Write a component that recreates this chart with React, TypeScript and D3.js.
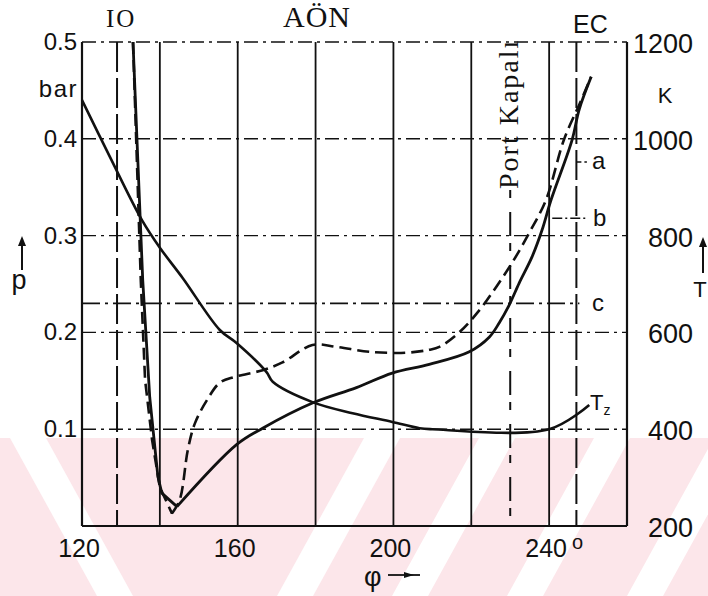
import React from "react";
import * as d3 from "d3";

// crank angle (deg) and pressure (bar) for the two pressure traces
const solidPhi = [133.1, 135.6, 137.4, 138.7, 139.5, 140.5, 144.4, 159.7, 166.4, 179.2, 190.5, 199.7, 209.2, 219.5, 224.6, 227.2, 229.7, 232.3, 235.6, 238.2, 240.5, 245.9, 247.7, 250.8];
const solidP = [0.5, 0.254, 0.133, 0.082, 0.051, 0.034, 0.02, 0.084, 0.101, 0.127, 0.143, 0.158, 0.167, 0.18, 0.195, 0.21, 0.228, 0.251, 0.278, 0.306, 0.337, 0.399, 0.43, 0.464];
const solidVertex = 6;

const dashPhi = [133.1, 135.1, 136.2, 138.0, 140.0, 143.1, 145.1, 147.2, 149.0, 152.1, 155.4, 159.2, 166.4, 171.5, 179.2, 185.4, 193.8, 203.3, 209.2, 211.8, 216.9, 222.1, 226.4, 230.5, 234.9, 239.2, 243.8, 247.7, 250.8];
const dashP = [0.5, 0.254, 0.151, 0.089, 0.04, 0.013, 0.027, 0.079, 0.106, 0.13, 0.148, 0.154, 0.161, 0.169, 0.187, 0.185, 0.18, 0.179, 0.182, 0.185, 0.2, 0.223, 0.247, 0.272, 0.303, 0.337, 0.399, 0.435, 0.464];
const dashVertex = 5;

// temperature T_z (K)
const tzPhi = [120, 127.2, 135.4, 140, 145.9, 155.4, 159.7, 167.4, 169, 179.2, 189.5, 199.7, 206.7, 210, 240, 250.3];
const tzT = [1080, 962, 832, 775, 712, 605, 578, 518, 498, 456, 433, 415, 402, 400, 400, 450];

const phiTicks = [120, 160, 200, 240];
const gridPhi = [140, 160, 180, 200, 220, 240];
const pTicks = [0.1, 0.2, 0.3, 0.4, 0.5];
const tTicks = [200, 400, 600, 800, 1000, 1200];

const ioPhi = 129;
const ecPhi = 247;
const portPhi = 230;
const cP = 0.23;
const labelA = { text: "a", p: 0.376, from: 247 };
const labelB = { text: "b", p: 0.318, from: 240.8 };
const leaderEnd = 249.7;

const W = 708;
const H = 596;

export default function App() {
  const x = d3.scaleLinear().domain([120, 260]).range([82, 627]);
  const yP = d3.scaleLinear().domain([0, 0.5]).range([526, 42]);
  const yT = d3.scaleLinear().domain([200, 1200]).range([526, 42]);

  const pSmooth = d3
    .line<[number, number]>()
    .x((d) => x(d[0]))
    .y((d) => yP(d[1]))
    .curve(d3.curveCatmullRom.alpha(0.5));
  const pStraight = d3
    .line<[number, number]>()
    .x((d) => x(d[0]))
    .y((d) => yP(d[1]))
    .curve(d3.curveLinear);
  const tLine = d3
    .line<[number, number]>()
    .x((d) => x(d[0]))
    .y((d) => yT(d[1]))
    .curve(d3.curveCatmullRom.alpha(0.5));

  const solid = solidPhi.map((v, i) => [v, solidP[i]] as [number, number]);
  const dashed = dashPhi.map((v, i) => [v, dashP[i]] as [number, number]);
  const tz = tzPhi.map((v, i) => [v, tzT[i]] as [number, number]);

  const solidD = (pStraight(solid.slice(0, solidVertex + 1)) ?? "") + (pSmooth(solid.slice(solidVertex)) ?? "");
  const dashD = (pStraight(dashed.slice(0, dashVertex + 1)) ?? "") + (pSmooth(dashed.slice(dashVertex)) ?? "");

  const x0 = x(120);
  const x1 = x(260);
  const yTop = yP(0.5);
  const yBot = yP(0);
  const sans = "'Liberation Sans', Arial, sans-serif";
  const serif = "'Liberation Serif', 'DejaVu Serif', serif";
  const ink = "#111";

  // watermark stripes (background decoration)
  const wmTop = 438;
  const slant = 87;
  const slashStripes = [295, 410, 525, 645, 760];
  const stripeW = 36;

  return (
    <svg width={W} height={H} style={{ position: "absolute", left: 0, top: 0, background: "#fff" }}>
      <defs>
        <clipPath id="wm">
          <rect x={0} y={wmTop} width={W} height={H - wmTop} />
        </clipPath>
      </defs>
      <g clipPath="url(#wm)">
        <rect x={0} y={wmTop} width={W} height={H - wmTop} fill="#fce6ea" />
        {slashStripes.map((c, i) => (
          <polygon
            key={i}
            fill="#fff"
            points={`${c - stripeW / 2},${H} ${c + stripeW / 2},${H} ${c + stripeW / 2 + slant},${wmTop} ${c - stripeW / 2 + slant},${wmTop}`}
          />
        ))}
        <polygon
          fill="#fff"
          points={`${115 - stripeW / 2},${H} ${115 + stripeW / 2},${H} ${115 + stripeW / 2 - slant},${wmTop} ${115 - stripeW / 2 - slant},${wmTop}`}
        />
      </g>

      {/* horizontal dash-dot grid */}
      {pTicks.map((t) => (
        <line key={t} x1={x0} x2={x1} y1={yP(t)} y2={yP(t)} stroke={ink} strokeWidth={1.4} strokeDasharray="14,5,3,5" />
      ))}
      {/* vertical grid */}
      {gridPhi.map((g) => (
        <line key={g} x1={x(g)} x2={x(g)} y1={yTop} y2={yBot} stroke={ink} strokeWidth={1.8} />
      ))}
      {/* frame */}
      <line x1={x0} x2={x0} y1={yTop} y2={yBot} stroke={ink} strokeWidth={2.2} />
      <line x1={x1} x2={x1} y1={yTop} y2={yBot} stroke={ink} strokeWidth={2.2} />
      <line x1={x0} x2={x1} y1={yBot} y2={yBot} stroke={ink} strokeWidth={2.2} />

      {/* IO, EC, port closed */}
      <line x1={x(ioPhi)} x2={x(ioPhi)} y1={yTop} y2={yBot} stroke={ink} strokeWidth={2} strokeDasharray="30,6" />
      <line x1={x(ecPhi)} x2={x(ecPhi)} y1={yTop} y2={yBot} stroke={ink} strokeWidth={2} strokeDasharray="30,6" />
      <line x1={x(portPhi)} x2={x(portPhi)} y1={190} y2={yBot} stroke={ink} strokeWidth={2} strokeDasharray="8,14,24,7" />

      {/* line c and leaders a, b */}
      <line x1={x0} x2={x(ecPhi) + 3} y1={yP(cP)} y2={yP(cP)} stroke={ink} strokeWidth={1.8} strokeDasharray="18,5,3,5" />
      <line x1={x(labelA.from)} x2={x(leaderEnd)} y1={yP(labelA.p)} y2={yP(labelA.p)} stroke={ink} strokeWidth={1.5} strokeDasharray="5,3" />
      <line x1={x(labelB.from)} x2={x(leaderEnd)} y1={yP(labelB.p)} y2={yP(labelB.p)} stroke={ink} strokeWidth={1.5} strokeDasharray="10,3,2,3" />

      {/* curves */}
      <path d={tLine(tz) ?? ""} fill="none" stroke={ink} strokeWidth={2.6} />
      <path d={solidD} fill="none" stroke={ink} strokeWidth={2.8} strokeLinejoin="round" />
      <path d={dashD} fill="none" stroke={ink} strokeWidth={2.6} strokeDasharray="12,6" />

      {/* left axis labels */}
      {pTicks.map((t) => (
        <text key={t} x={77} y={yP(t) + 8} textAnchor="end" fontFamily={sans} fontSize={24} fill={ink}>
          {t.toFixed(1)}
        </text>
      ))}
      <text x={78} y={97} textAnchor="end" fontFamily={sans} fontSize={24} letterSpacing={1.5} fill={ink}>
        bar
      </text>
      <text x={19} y={289} textAnchor="middle" fontFamily={sans} fontSize={27} fill={ink}>
        p
      </text>
      <line x1={22} x2={22} y1={270} y2={242} stroke={ink} strokeWidth={2} />
      <polygon points="18,246 26,246 22,236" fill={ink} />

      {/* right axis labels */}
      {tTicks.map((t) => (
        <text key={t} x={693} y={yT(t) + 11} textAnchor="end" fontFamily={sans} fontSize={27} fill={ink}>
          {t}
        </text>
      ))}
      <text x={665} y={103} textAnchor="middle" fontFamily={sans} fontSize={22} fill={ink}>
        K
      </text>
      <text x={700} y={297} textAnchor="middle" fontFamily={sans} fontSize={22} fill={ink}>
        T
      </text>
      <line x1={703} x2={703} y1={273} y2={243} stroke={ink} strokeWidth={2} />
      <polygon points="699,247 707,247 703,237" fill={ink} />

      {/* bottom axis labels */}
      {phiTicks.map((t) => (
        <text key={t} x={x(t) - 3} y={557} textAnchor="middle" fontFamily={sans} fontSize={25} fill={ink}>
          {t}
        </text>
      ))}
      <text x={572} y={549} fontFamily={sans} fontSize={20} fill={ink}>
        o
      </text>
      <text x={364} y={586} fontFamily={sans} fontSize={27} fill={ink}>
        φ
      </text>
      <line x1={388} x2={420} y1={575} y2={575} stroke={ink} strokeWidth={1.8} />
      <polygon points="404,572 414,575 404,578" fill={ink} />

      {/* top labels */}
      <text x={106} y={27} fontFamily={serif} fontSize={25} letterSpacing={2} fill={ink}>
        IO
      </text>
      <text x={283} y={27} fontFamily={serif} fontSize={30} letterSpacing={1} fill={ink}>
        AÖN
      </text>
      <text x={573} y={33} fontFamily={sans} fontSize={25} fill={ink}>
        EC
      </text>
      <text
        transform={`translate(${x(portPhi) + 8},189) rotate(-90)`}
        fontFamily={serif}
        fontSize={28}
        letterSpacing={2}
        fill={ink}
      >
        Port Kapalı
      </text>

      {/* curve labels */}
      <text x={592} y={yP(labelA.p) + 7} fontFamily={sans} fontSize={24} fill={ink}>
        {labelA.text}
      </text>
      <text x={593} y={yP(labelB.p) + 8} fontFamily={sans} fontSize={24} fill={ink}>
        {labelB.text}
      </text>
      <text x={592} y={yP(cP) + 8} fontFamily={sans} fontSize={24} fill={ink}>
        c
      </text>
      <text x={590} y={410} fontFamily={sans} fontSize={22} fill={ink}>
        T
        <tspan fontSize={14} dy={5}>
          z
        </tspan>
      </text>
    </svg>
  );
}
